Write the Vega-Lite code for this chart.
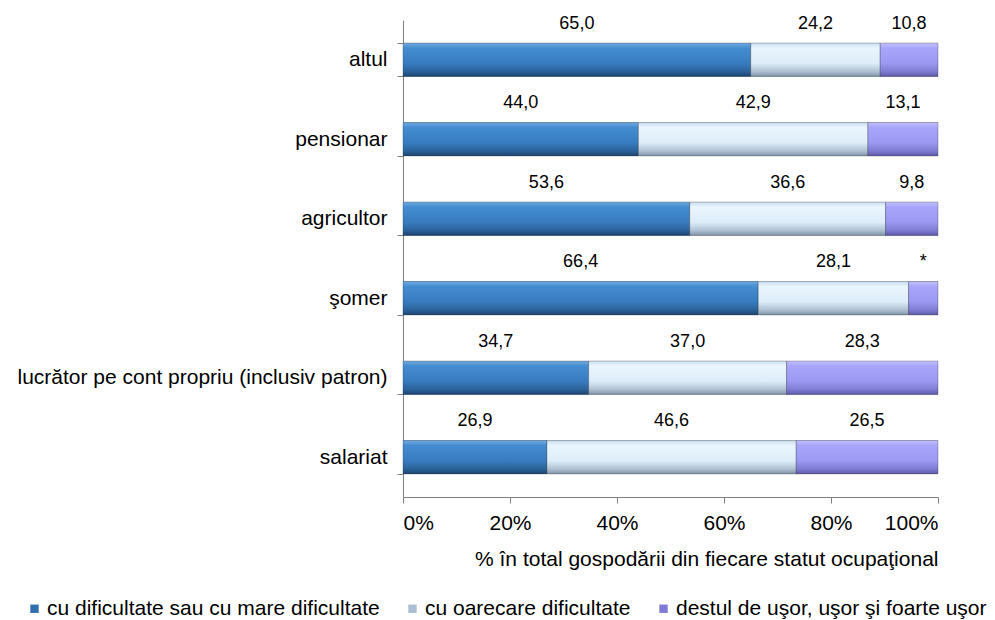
{
  "$schema": "https://vega.github.io/schema/vega-lite/v6.json",
  "width": 535,
  "height": 477,
  "autosize": {"type": "none"},
  "padding": {"left": 403, "top": 20, "right": 57, "bottom": 123},
  "config": {
    "font": "Liberation Sans",
    "view": {"stroke": null},
    "axis": {"labelFont": "Liberation Sans", "titleFont": "Liberation Sans", "labelColor": "#000", "titleColor": "#000", "domainColor": "#808080", "tickColor": "#808080"}
  },
  "data": {
    "values": [
      {"cat": "altul", "serie": "cu dificultate sau cu mare dificultate", "ord": 1, "v": 65.0, "label": "65,0"},
      {"cat": "altul", "serie": "cu oarecare dificultate", "ord": 2, "v": 24.2, "label": "24,2"},
      {"cat": "altul", "serie": "destul de uşor, uşor şi foarte uşor", "ord": 3, "v": 10.8, "label": "10,8"},
      {"cat": "pensionar", "serie": "cu dificultate sau cu mare dificultate", "ord": 1, "v": 44.0, "label": "44,0"},
      {"cat": "pensionar", "serie": "cu oarecare dificultate", "ord": 2, "v": 42.9, "label": "42,9"},
      {"cat": "pensionar", "serie": "destul de uşor, uşor şi foarte uşor", "ord": 3, "v": 13.1, "label": "13,1"},
      {"cat": "agricultor", "serie": "cu dificultate sau cu mare dificultate", "ord": 1, "v": 53.6, "label": "53,6"},
      {"cat": "agricultor", "serie": "cu oarecare dificultate", "ord": 2, "v": 36.6, "label": "36,6"},
      {"cat": "agricultor", "serie": "destul de uşor, uşor şi foarte uşor", "ord": 3, "v": 9.8, "label": "9,8"},
      {"cat": "şomer", "serie": "cu dificultate sau cu mare dificultate", "ord": 1, "v": 66.4, "label": "66,4"},
      {"cat": "şomer", "serie": "cu oarecare dificultate", "ord": 2, "v": 28.1, "label": "28,1"},
      {"cat": "şomer", "serie": "destul de uşor, uşor şi foarte uşor", "ord": 3, "v": 5.5, "label": "*"},
      {"cat": "lucrător pe cont propriu (inclusiv patron)", "serie": "cu dificultate sau cu mare dificultate", "ord": 1, "v": 34.7, "label": "34,7"},
      {"cat": "lucrător pe cont propriu (inclusiv patron)", "serie": "cu oarecare dificultate", "ord": 2, "v": 37.0, "label": "37,0"},
      {"cat": "lucrător pe cont propriu (inclusiv patron)", "serie": "destul de uşor, uşor şi foarte uşor", "ord": 3, "v": 28.3, "label": "28,3"},
      {"cat": "salariat", "serie": "cu dificultate sau cu mare dificultate", "ord": 1, "v": 26.9, "label": "26,9"},
      {"cat": "salariat", "serie": "cu oarecare dificultate", "ord": 2, "v": 46.6, "label": "46,6"},
      {"cat": "salariat", "serie": "destul de uşor, uşor şi foarte uşor", "ord": 3, "v": 26.5, "label": "26,5"}
    ]
  },
  "transform": [
    {"stack": "v", "groupby": ["cat"], "sort": [{"field": "ord"}], "as": ["x0", "x1"]}
  ],
  "encoding": {
    "y": {
      "field": "cat", "type": "nominal",
      "sort": ["altul", "pensionar", "agricultor", "şomer", "lucrător pe cont propriu (inclusiv patron)", "salariat"],
      "scale": {"paddingInner": 0.58, "paddingOuter": 0.29},
      "axis": {"title": null, "labelFontSize": 21, "labelPadding": 10, "labelLimit": 0, "tickBand": "extent", "tickSize": 6, "domainColor": "#808080"}
    }
  },
  "layer": [
    {
      "mark": {"type": "bar"},
      "encoding": {
        "x": {
          "field": "x0", "type": "quantitative",
          "scale": {"domain": [0, 100], "nice": false},
          "axis": {"values": [0, 20, 40, 60, 80, 100], "labelExpr": "datum.value + '%'", "labelFontSize": 21, "labelPadding": 9, "grid": false, "tickSize": 6,
                   "title": "% în total gospodării din fiecare statut ocupaţional", "titleFontSize": 21, "titleFontWeight": "normal", "titleAnchor": "end", "titlePadding": 15}
        },
        "x2": {"field": "x1"},
        "color": {
          "field": "serie", "type": "nominal",
          "sort": ["cu dificultate sau cu mare dificultate", "cu oarecare dificultate", "destul de uşor, uşor şi foarte uşor"],
          "scale": {"range": ["#2F6FAE", "#A9BED1", "#7D7AD8"]},
          "legend": {
            "title": null, "orient": "none", "direction": "horizontal", "legendX": -379, "legendY": 578,
            "symbolType": "square", "symbolSize": 70, "symbolStrokeWidth": 0, "labelFontSize": 21, "labelOffset": 2, "columnPadding": 22, "labelLimit": 0
          }
        }
      }
    },
    {
      "mark": {"type": "bar", "stroke": "#2b2b2b", "strokeWidth": 0.6, "strokeOpacity": 0.5},
      "encoding": {
        "x": {"field": "x0", "type": "quantitative"},
        "x2": {"field": "x1"},
        "fill": {
          "condition": [
            {"test": "datum.ord === 1", "value": {"gradient": "linear", "x1": 0, "y1": 0, "x2": 0, "y2": 1, "stops": [{"offset": 0, "color": "#72AAE0"}, {"offset": 0.15, "color": "#448CD0"}, {"offset": 0.6, "color": "#387CC0"}, {"offset": 0.85, "color": "#2B6299"}, {"offset": 1, "color": "#1E4470"}]}},
            {"test": "datum.ord === 2", "value": {"gradient": "linear", "x1": 0, "y1": 0, "x2": 0, "y2": 1, "stops": [{"offset": 0, "color": "#C9DDF0"}, {"offset": 0.15, "color": "#EAF5FD"}, {"offset": 0.6, "color": "#DDEDF9"}, {"offset": 0.85, "color": "#AFC2D3"}, {"offset": 1, "color": "#7F93A6"}]}}
          ],
          "value": {"gradient": "linear", "x1": 0, "y1": 0, "x2": 0, "y2": 1, "stops": [{"offset": 0, "color": "#C4C2FF"}, {"offset": 0.15, "color": "#A8A5FA"}, {"offset": 0.6, "color": "#9C99F2"}, {"offset": 0.85, "color": "#7F7CD3"}, {"offset": 1, "color": "#5C5AA8"}]}
        }
      }
    },
    {
      "mark": {"type": "text", "fontSize": 18, "dy": -36, "baseline": "middle", "align": "center", "color": "#000"},
      "encoding": {
        "x": {"field": "v", "type": "quantitative", "stack": "zero", "bandPosition": 0.5},
        "order": {"field": "ord", "type": "quantitative"},
        "text": {"field": "label"}
      }
    }
  ]
}
